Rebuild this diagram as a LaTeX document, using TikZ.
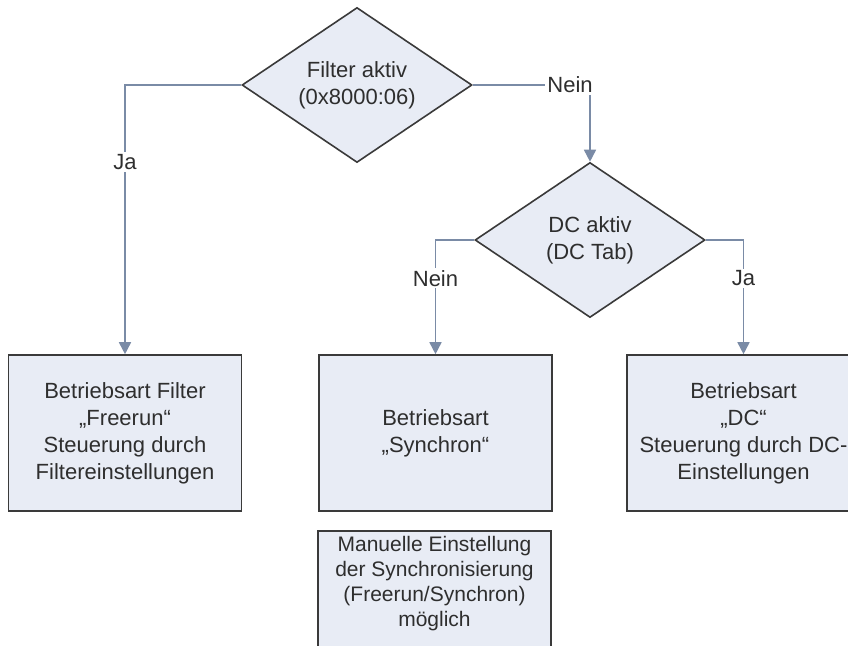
\documentclass[tikz,border=0pt]{standalone}
\usepackage{fontspec}
\setmainfont{Liberation Sans}
\usetikzlibrary{shapes.geometric,arrows.meta}
\definecolor{fillc}{HTML}{E8ECF5}
\definecolor{edgec}{HTML}{3A3A3A}
\definecolor{linec}{HTML}{7A8BA6}
\definecolor{txtc}{HTML}{2E2E2E}
\begin{document}
\begin{tikzpicture}[x=1pt,y=-1pt,
 decision/.style={diamond, draw=edgec, fill=fillc, line width=1.6pt, minimum width=230pt, minimum height=155pt, aspect=1.48, inner sep=0pt, align=center, text=txtc, font=\fontsize{22}{27}\selectfont},
 procbox/.style={rectangle, draw=edgec, fill=fillc, line width=1.6pt, minimum width=233pt, minimum height=156pt, inner sep=0pt, align=center, text=txtc, font=\fontsize{22}{27}\selectfont},
 conn/.style={draw=linec, line width=1.6pt, -{Triangle[length=12pt,width=12pt]}},
 lbl/.style={fill=white, text=txtc, inner sep=2pt, font=\fontsize{22}{27}\selectfont},
]
\clip (0,0) rectangle (848,645);
\fill[white] (0,0) rectangle (848,645);

\node[decision] (d1) at (357,85) {Filter aktiv\\(0x8000:06)};
\node[decision] (d2) at (590,240) {DC aktiv\\(DC Tab)};

\node[procbox] (b1) at (125,433) {Betriebsart Filter\\„Freerun“\\Steuerung durch\\Filtereinstellungen};
\node[procbox] (b2) at (435.5,433) {Betriebsart\\„Synchron“};
\node[procbox] (b3) at (743.5,433) {Betriebsart\\„DC“\\Steuerung durch DC-\\Einstellungen};

\node[procbox, minimum height=150pt, anchor=north] (b4) at (434.5,530) {};
\node[text=txtc, font=\fontsize{21}{25}\selectfont, align=center, anchor=north] (b4t) at (434.5,533) {Manuelle Einstellung\\der Synchronisierung\\(Freerun/Synchron)\\möglich};

\draw[conn] (d1.west) -| node[lbl, pos=0.643] (ja1) {Ja} (b1.north);
\draw[conn] (d1.east) -| node[lbl, pos=0.415] (nein1) {Nein} (d2.north);
\draw[conn] (d2.west) -| node[lbl, pos=0.668] (nein2) {Nein} (b2.north);
\draw[conn] (d2.east) -| node[lbl, pos=0.668] (ja2) {Ja} (b3.north);
\end{tikzpicture}
\end{document}
